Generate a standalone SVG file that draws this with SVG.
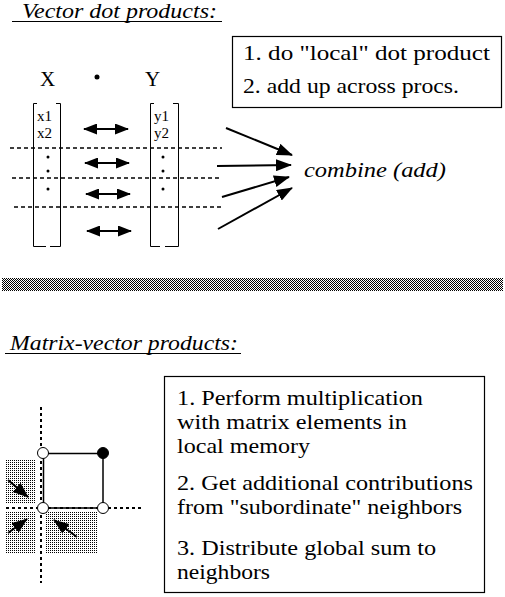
<svg xmlns="http://www.w3.org/2000/svg" width="505" height="597" viewBox="0 0 505 597">
<style>
.ln{stroke:#000;fill:none}
.dash{stroke:#000;stroke-width:1.5;stroke-dasharray:4 3;fill:none}
.dash2{stroke:#000;stroke-width:2;stroke-dasharray:3 3;fill:none}
.box{fill:#fff;stroke:#000;stroke-width:1.2}
.arr{stroke:#000;stroke-width:2;fill:none}
</style>
<defs>
<marker id="ah" viewBox="0 0 14 11" refX="13" refY="5.5" markerWidth="14" markerHeight="11" orient="auto-start-reverse" markerUnits="userSpaceOnUse"><path d="M0,0 L14,5.5 L0,11 z" fill="#000"/></marker>
<marker id="ah2" viewBox="0 0 16 12" refX="15" refY="6" markerWidth="16" markerHeight="12" orient="auto" markerUnits="userSpaceOnUse"><path d="M0,0 L16,6 L0,12 z" fill="#000"/></marker>
<pattern id="checker" width="2" height="2" patternUnits="userSpaceOnUse"><rect width="2" height="2" fill="#fff"/><rect width="1" height="1" fill="#000"/><rect x="1" y="1" width="1" height="1" fill="#000"/></pattern>
<pattern id="stip" width="2" height="2" patternUnits="userSpaceOnUse"><rect width="2" height="2" fill="#fff"/><rect width="1" height="1" fill="#000"/></pattern>
</defs>
<rect width="505" height="597" fill="#fff"/>
<g font-family="'Liberation Serif', 'Times New Roman', Times, Tinos, 'Noto Serif', 'DejaVu Serif', FreeSerif, serif" fill="#000">

<g id="title-vector">
<text font-style="italic" x="22" y="18" font-size="21" textLength="195" lengthAdjust="spacingAndGlyphs">Vector dot products:</text>
<line class="ln" x1="12" y1="21.5" x2="222" y2="21.5"/>
</g>

<g id="steps-box">
<rect class="box" x="232.5" y="36.5" width="269" height="71"/>
<text x="243" y="60" font-size="21" textLength="247" lengthAdjust="spacingAndGlyphs">1. do "local" dot product</text>
<text x="243" y="93" font-size="21" textLength="216" lengthAdjust="spacingAndGlyphs">2. add up across procs.</text>
</g>

<g id="labels">
<text x="40" y="86" font-size="21">X</text>
<circle cx="97" cy="77" r="2.5" fill="#000"/>
<text x="145" y="86" font-size="21">Y</text>
</g>

<g id="vector-x">
<path class="ln" d="M37,103.5 H33.5 V246.5 H46 M50,246.5 H60.5 V103.5 H56"/>
<text x="37" y="121" font-size="15">x1</text>
<text x="37" y="138" font-size="15">x2</text>
<circle cx="48" cy="157" r="1.5" fill="#000"/>
<circle cx="48" cy="171" r="1.5" fill="#000"/>
<circle cx="48" cy="189" r="1.5" fill="#000"/>
</g>

<g id="vector-y">
<path class="ln" d="M154,103.5 H150.5 V246.5 H160 M165,246.5 H178.5 V103.5 H173"/>
<text x="154" y="121" font-size="15">y1</text>
<text x="154" y="138" font-size="15">y2</text>
<circle cx="163" cy="157" r="1.5" fill="#000"/>
<circle cx="163" cy="171" r="1.5" fill="#000"/>
<circle cx="163" cy="189" r="1.5" fill="#000"/>
</g>

<g id="combine">
<text font-style="italic" x="304" y="177" font-size="21" textLength="142" lengthAdjust="spacingAndGlyphs">combine (add)</text>
</g>

<g id="connectors">
<line class="dash" x1="10" y1="148" x2="222" y2="148"/>
<line class="dash" x1="12" y1="178" x2="222" y2="178"/>
<line class="dash" x1="14" y1="207" x2="222" y2="207"/>
<line class="arr" x1="84" y1="129" x2="128" y2="129" marker-start="url(#ah)" marker-end="url(#ah)"/>
<line class="arr" x1="85" y1="163" x2="129" y2="163" marker-start="url(#ah)" marker-end="url(#ah)"/>
<line class="arr" x1="86" y1="194" x2="130" y2="194" marker-start="url(#ah)" marker-end="url(#ah)"/>
<line class="arr" x1="87" y1="231" x2="131" y2="231" marker-start="url(#ah)" marker-end="url(#ah)"/>
<line class="arr" x1="226" y1="128" x2="292" y2="155" marker-end="url(#ah2)"/>
<line class="arr" x1="217" y1="166" x2="291" y2="165" marker-end="url(#ah2)"/>
<line class="arr" x1="222" y1="197" x2="289" y2="177" marker-end="url(#ah2)"/>
<line class="arr" x1="218" y1="229" x2="292" y2="188" marker-end="url(#ah2)"/>
</g>

<g id="separator">
<rect x="2" y="278" width="501" height="13" fill="url(#checker)" shape-rendering="crispEdges"/>
</g>

<g id="title-matrix">
<text font-style="italic" x="10" y="350" font-size="21" textLength="228" lengthAdjust="spacingAndGlyphs">Matrix-vector products:</text>
<line class="ln" x1="5" y1="353.5" x2="241" y2="353.5"/>
</g>

<g id="grid">
<rect x="6" y="460" width="29" height="43" fill="url(#stip)" shape-rendering="crispEdges"/>
<rect x="6" y="511" width="29" height="43" fill="url(#stip)" shape-rendering="crispEdges"/>
<rect x="45" y="511" width="52" height="43" fill="url(#stip)" shape-rendering="crispEdges"/>
<line class="dash2" x1="41" y1="407" x2="41" y2="583"/>
<line class="dash2" x1="6" y1="508" x2="143" y2="508"/>
<rect class="ln" x="43.5" y="453.5" width="59.5" height="54.5" stroke-width="1.5"/>
<line class="arr" x1="8" y1="480" x2="28" y2="497" marker-end="url(#ah2)"/>
<line class="arr" x1="8" y1="533" x2="27" y2="519" marker-end="url(#ah2)"/>
<line class="arr" x1="77" y1="537" x2="54" y2="520" marker-end="url(#ah2)"/>
<circle cx="43" cy="453" r="5.5" fill="#fff" stroke="#000"/>
<circle cx="103" cy="453" r="5.5" fill="#000" stroke="#000"/>
<circle cx="43" cy="508" r="5.5" fill="#fff" stroke="#000"/>
<circle cx="103" cy="508" r="5.5" fill="#fff" stroke="#000"/>
</g>

<g id="matrix-box">
<rect class="box" x="164.5" y="376.5" width="320" height="216"/>
<text x="177" y="405" font-size="21" textLength="246" lengthAdjust="spacingAndGlyphs">1. Perform multiplication</text>
<text x="177" y="429" font-size="21" textLength="230" lengthAdjust="spacingAndGlyphs">with matrix elements in</text>
<text x="177" y="453" font-size="21" textLength="133" lengthAdjust="spacingAndGlyphs">local memory</text>
<text x="177" y="490" font-size="21" textLength="296" lengthAdjust="spacingAndGlyphs">2. Get additional contributions</text>
<text x="177" y="514" font-size="21" textLength="285" lengthAdjust="spacingAndGlyphs">from "subordinate" neighbors</text>
<text x="177" y="555" font-size="21" textLength="259" lengthAdjust="spacingAndGlyphs">3. Distribute global sum to</text>
<text x="177" y="579" font-size="21" textLength="93" lengthAdjust="spacingAndGlyphs">neighbors</text>
</g>
</g>
</svg>
